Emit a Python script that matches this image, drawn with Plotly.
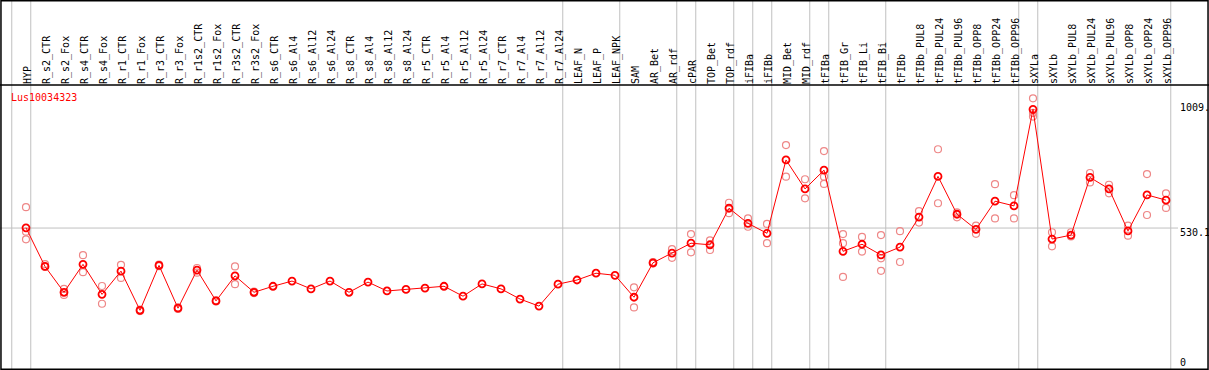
import plotly.graph_objects as go

categories = ["HYP", "R_s2_CTR", "R_s2_Fox", "R_s4_CTR", "R_s4_Fox", "R_r1_CTR", "R_r1_Fox",
              "R_r3_CTR", "R_r3_Fox", "R_r1s2_CTR", "R_r1s2_Fox", "R_r3s2_CTR", "R_r3s2_Fox",
              "R_s6_CTR", "R_s6_Al4", "R_s6_Al12", "R_s6_Al24", "R_s8_CTR", "R_s8_Al4",
              "R_s8_Al12", "R_s8_Al24", "R_r5_CTR", "R_r5_Al4", "R_r5_Al12", "R_r5_Al24",
              "R_r7_CTR", "R_r7_Al4", "R_r7_Al12", "R_r7_Al24", "LEAF_N", "LEAF_P", "LEAF_NPK",
              "SAM", "AR_Bet", "AR_rdf", "cPAR", "TOP_Bet", "TOP_rdf", "iFIBa", "iFIBb",
              "MID_Bet", "MID_rdf", "tFIBa", "tFIB_Gr", "tFIB_Li", "tFIB_Bi", "tFIBb",
              "tFIBb_PUL8", "tFIBb_PUL24", "tFIBb_PUL96", "tFIBb_OPP8", "tFIBb_OPP24", "tFIBb_OPP96",
              "sXYLa", "sXYLb", "sXYLb_PUL8", "sXYLb_PUL24", "sXYLb_PUL96", "sXYLb_OPP8",
              "sXYLb_OPP24", "sXYLb_OPP96"]

mean_values = [531, 383, 284, 391, 276, 365, 215, 387, 223, 369, 251, 347, 284,
               307, 327, 297, 327, 284, 323, 289, 295, 300, 307, 269, 316,
               297, 258, 231, 315, 331, 357, 349,
               265, 397, 434, 472, 466, 606, 548, 510, 791, 680, 752, 441, 468, 427, 457,
               572, 728, 583, 525, 633, 615,
               985, 488, 503, 724, 680, 519, 657, 637]

replicate_values = [
    [610, 516, 487], [392, 381], [297, 274], [426, 361], [308, 240], [389, 339], [218, 212],
    [390, 384], [226, 220], [377, 359], [253, 249], [383, 315], [287, 281],
    [], [], [], [], [], [], [], [], [], [], [], [], [], [], [], [], [], [], [],
    [303, 226], [400, 394], [449, 416], [507, 437], [483, 446], [627, 587], [567, 535], [546, 472],
    [848, 727], [717, 644], [825, 727, 699], [507, 472, 343], [496, 440], [503, 414, 366], [518, 400],
    [595, 551], [832, 625], [590, 571], [539, 508], [698, 567], [656, 567],
    [1027, 957, 971], [514, 460], [514, 498], [741, 705], [696, 663], [539, 501], [737, 580], [663, 607],
]

axis_labels = ["1009.", "530.1", "0"]
axis_label_values = [1009, 530.1, 0]
group_ends = [0, 28, 31, 34, 35, 37, 38, 39, 41, 42, 45, 52, 53, 60]

W, H = 1209, 370
HEADER = 85
FONT = "DejaVu Sans Mono"

rep_x, rep_y = [], []
for i, reps in enumerate(replicate_values):
    for v in reps:
        rep_x.append(i)
        rep_y.append(v)

xs = list(range(len(categories)))

fig = go.Figure()
fig.add_trace(go.Scatter(
    x=rep_x, y=rep_y, mode="markers",
    marker=dict(symbol="circle-open", size=7, color="rgb(238,135,135)", line=dict(width=1.2)),
    hoverinfo="skip", showlegend=False))
fig.add_trace(go.Scatter(
    x=xs, y=mean_values, mode="lines+markers",
    line=dict(color="#ff0000", width=1),
    marker=dict(symbol="circle-open", size=7, color="#ff0000", line=dict(width=1.8)),
    showlegend=False))

px_per_col = 19.0
x0 = -26.0 / px_per_col
x1 = x0 + W / px_per_col
plot_h = H - HEADER
px_per_unit = 0.261
zero_px_from_bottom = H - 366.4
y0 = -zero_px_from_bottom / px_per_unit
y1 = y0 + plot_h / px_per_unit

shapes = []
for g in [-1] + group_ends:
    shapes.append(dict(type="line", xref="x", yref="paper", x0=g + 0.25, x1=g + 0.25, y0=0, y1=1,
                       line=dict(color="#c0c0c0", width=1), layer="below"))
shapes.append(dict(type="line", xref="paper", yref="y", x0=0, x1=1178 / W, y0=530.1, y1=530.1,
                   line=dict(color="#c0c0c0", width=1), layer="below"))
shapes.append(dict(type="line", xref="paper", yref="paper", x0=0, x1=1, y0=plot_h / H, y1=plot_h / H,
                   line=dict(color="black", width=1.5)))
shapes.append(dict(type="rect", xref="paper", yref="paper", x0=0.0008, x1=0.9992, y0=0.002, y1=0.998,
                   line=dict(color="black", width=1.5)))

annotations = []
for lab, v in zip(axis_labels, axis_label_values):
    shift = -4 if v > 0 else 4
    annotations.append(dict(xref="paper", yref="y", x=1178 / W, y=v, xanchor="left", yanchor="middle",
                            yshift=shift, text=lab, showarrow=False,
                            font=dict(family=FONT, size=10, color="black")))
annotations.append(dict(xref="paper", yref="paper", x=9 / W, y=1 - 97.7 / H, xanchor="left",
                        yanchor="middle", text="Lus10034323", showarrow=False,
                        font=dict(family=FONT, size=10, color="#ff0000")))

fig.update_layout(
    width=W, height=H, margin=dict(l=0, r=0, t=0, b=0),
    paper_bgcolor="white", plot_bgcolor="white",
    xaxis=dict(range=[x0, x1], side="top", tickmode="array", tickvals=xs, ticktext=categories,
               tickangle=-90, tickfont=dict(family=FONT, size=10, color="black"), ticks="",
               ticklabelshift=2,
               showgrid=False, zeroline=False, showline=False, automargin=False, fixedrange=True),
    yaxis=dict(range=[y0, y1], domain=[0, plot_h / H], showgrid=False, zeroline=False,
               showticklabels=False, showline=False, automargin=False, fixedrange=True),
    shapes=shapes, annotations=annotations,
)

fig.write_html("out.html", config={"displayModeBar": False},
               post_script="document.body.style.margin='0';document.body.style.overflow='hidden';")
